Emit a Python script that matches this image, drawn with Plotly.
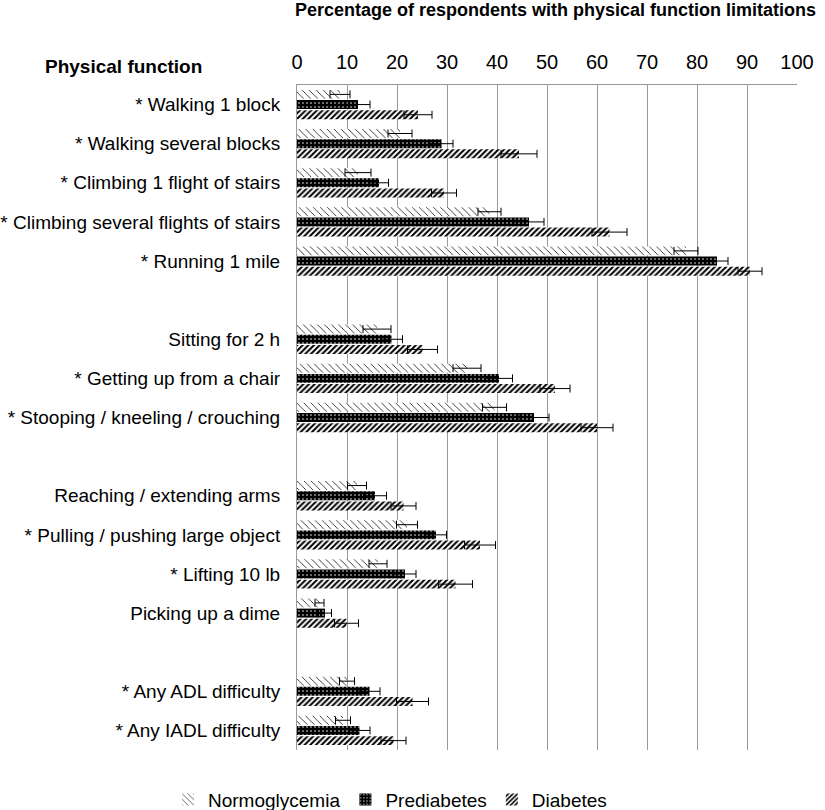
import plotly.graph_objects as go

# Row labels (empty strings are spacer rows between groups)
labels = [
    "* Walking 1 block",
    "* Walking several blocks",
    "* Climbing 1 flight of stairs",
    "* Climbing several flights of stairs",
    "* Running 1 mile",
    "",
    "Sitting for 2 h",
    "* Getting up from a chair",
    "* Stooping / kneeling / crouching",
    "",
    "Reaching / extending arms",
    "* Pulling / pushing large object",
    "* Lifting 10 lb",
    "Picking up a dime",
    "",
    "* Any ADL difficulty",
    "* Any IADL difficulty",
]

normo = [8.6, 20.6, 12.2, 38.5, 77.8, None, 16.0, 34.0, 39.5, None, 12.0, 22.0, 16.2, 4.5, None, 10.0, 9.2]
normo_err = [2.0, 2.4, 2.6, 2.3, 2.4, None, 2.8, 2.8, 2.4, None, 1.9, 2.1, 1.8, 0.9, None, 1.5, 1.5]

prediab = [12.2, 28.9, 16.4, 46.4, 84.0, None, 18.9, 40.4, 47.4, None, 15.6, 27.8, 21.6, 5.6, None, 14.5, 12.5]
prediab_err = [2.4, 2.3, 1.9, 3.0, 2.2, None, 2.2, 2.7, 3.0, None, 2.3, 2.1, 2.2, 1.3, None, 2.1, 2.1]

diab = [24.2, 44.4, 29.4, 62.5, 90.6, None, 25.1, 51.6, 60.0, None, 21.3, 36.6, 31.7, 9.9, None, 23.1, 19.3]
diab_err = [2.8, 3.6, 2.5, 3.5, 2.4, None, 3.0, 3.0, 3.2, None, 2.5, 3.1, 3.4, 2.4, None, 3.2, 2.5]

series_names = ["Normoglycemia", "Prediabetes", "Diabetes"]
x_ticks = [0, 10, 20, 30, 40, 50, 60, 70, 80, 90, 100]

FONT = "Arial, Liberation Sans, sans-serif"
positions = list(range(len(labels)))

patterns = [
    dict(shape="\\", fgcolor="black", bgcolor="white", size=5, solidity=0.15, fillmode="replace"),
    dict(shape=".", fgcolor="white", bgcolor="black", size=4, solidity=0.12, fillmode="replace"),
    dict(shape="/", fgcolor="black", bgcolor="white", size=4, solidity=0.5, fillmode="replace"),
]

fig = go.Figure()
for name, vals, errs, pat in zip(series_names, [normo, prediab, diab],
                                 [normo_err, prediab_err, diab_err], patterns):
    fig.add_trace(go.Bar(
        name=name,
        x=vals,
        y=positions,
        orientation="h",
        marker=dict(color="white" if pat["bgcolor"] == "white" else "black",
                    line=dict(width=0), pattern=pat),
        error_x=dict(type="data", array=errs, visible=True, color="black",
                     thickness=1, width=4),
    ))

fig.update_layout(
    width=825, height=810,
    margin=dict(l=297, r=28, t=85, b=60, autoexpand=False),
    paper_bgcolor="white", plot_bgcolor="white",
    barmode="group", bargap=0.22, bargroupgap=0.12,
    font=dict(family=FONT, size=19, color="black"),
    showlegend=True,
    legend=dict(orientation="h", x=-0.258, xanchor="left", y=-0.046, yanchor="top",
                font=dict(size=19, family=FONT), traceorder="normal"),
    xaxis=dict(
        side="top", range=[0, 100], tickvals=x_ticks, ticktext=[str(t) for t in x_ticks],
        showgrid=True, gridcolor="#999999", gridwidth=1,
        showline=True, linecolor="#999999", linewidth=1, mirror=False,
        zeroline=False, ticks="", tickfont=dict(size=20, family=FONT),
        ticklabelstandoff=7, fixedrange=True, automargin=False,
    ),
    yaxis=dict(
        range=[len(labels) - 0.5, -0.5], tickvals=positions, ticktext=labels,
        showgrid=False, zeroline=False, showline=True, linecolor="#999999", linewidth=1,
        ticks="", tickfont=dict(size=19, family=FONT), ticklabelstandoff=12,
        automargin=False, fixedrange=True,
    ),
    annotations=[
        dict(text="<b>Percentage of respondents with physical function limitations</b>",
             xref="paper", yref="paper", x=0.516, y=1 + (85 - 10) / 665,
             xanchor="center", yanchor="middle", showarrow=False,
             font=dict(size=18, family=FONT)),
        dict(text="<b>Physical function</b>",
             xref="paper", yref="paper", x=(204 - 297) / 500, y=1 + (85 - 67) / 665,
             xanchor="right", yanchor="middle", showarrow=False,
             font=dict(size=19, family=FONT)),
    ],
)

fig.write_html(
    "out.html",
    config={"displayModeBar": False},
    post_script="document.body.style.margin='0';document.body.style.overflow='hidden';",
)
